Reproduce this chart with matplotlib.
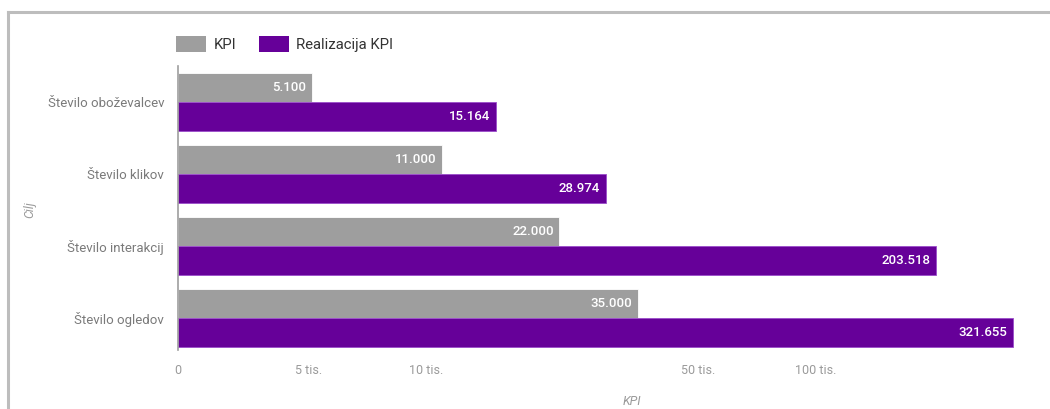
import matplotlib.pyplot as plt
from matplotlib.lines import Line2D
from matplotlib.patches import Patch

plt.rcParams['font.family'] = ['Roboto', 'DejaVu Sans']

categories = ['Število oboževalcev', 'Število klikov', 'Število interakcij', 'Število ogledov']
kpi = [5100, 11000, 22000, 35000]
realizacija = [15164, 28974, 203518, 321655]

tick_values = [5000, 10000, 50000, 100000]
tick_labels = ['5 tis.', '10 tis.', '50 tis.', '100 tis.']

# log axis floor (shown as "0")
axis_floor = 2310
axis_top = 377000

gray = '#9e9e9e'
purple = '#660099'

W, H = 1050, 409
fig = plt.figure(figsize=(W / 100, H / 100), dpi=100)
ax = fig.add_axes([178 / W, 1 - 350 / H, (1040 - 178) / W, (350 - 66) / H])

y = list(range(len(categories)))
h = 0.4
kpi_bars = ax.barh([i - h / 2 for i in y], [v - axis_floor for v in kpi], left=axis_floor,
                   height=h, color=gray, edgecolor='white', linewidth=0.6)
real_bars = ax.barh([i + h / 2 for i in y], [v - axis_floor for v in realizacija], left=axis_floor,
                    height=h, color=purple, edgecolor='#9b4dca', linewidth=0.6)

ax.set_xscale('log')
ax.set_xlim(axis_floor, axis_top)
ax.set_ylim(len(categories) - 0.56, -0.5)

for bars, vals in [(kpi_bars, kpi), (real_bars, realizacija)]:
    for b, v in zip(bars, vals):
        ax.annotate(f"{v:,}".replace(",", "."), (v, b.get_y() + b.get_height() / 2),
                    xytext=(-4, 0), textcoords='offset points', ha='right', va='center',
                    color='white', fontsize=9.5, fontweight='medium')

ax.set_yticks(y)
ax.set_yticklabels(categories, fontsize=9.5, color='#7a7a7a')
ax.set_xticks([axis_floor] + tick_values)
ax.set_xticklabels(['0'] + tick_labels, fontsize=9, color='#9a9a9a')
ax.minorticks_off()
ax.tick_params(length=0)
ax.tick_params(axis='x', pad=10)
ax.tick_params(axis='y', pad=10)

for s in ['top', 'right', 'bottom']:
    ax.spines[s].set_visible(False)
ax.spines['left'].set_color('#9e9e9e')
ax.spines['left'].set_linewidth(1.2)

ax.set_xlabel('KPI', fontsize=9, color='#9a9a9a', style='italic', labelpad=12)
ax.xaxis.set_label_coords((632 - 178) / (1040 - 178), -(395 - 350) / (350 - 66))
fig.text(30 / W, 1 - 210 / H, 'Cilj', rotation=90, fontsize=9, color='#9a9a9a',
         style='italic', ha='center', va='center')

handles = [Patch(facecolor=gray, label='KPI'), Patch(facecolor=purple, label='Realizacija KPI')]
fig.legend(handles=handles, loc='center left', bbox_to_anchor=(163 / W, 1 - 44 / H), ncol=2,
           frameon=False, fontsize=10.7, handlelength=2.0, handleheight=1.3,
           handletextpad=0.5, columnspacing=1.55, labelcolor='#333333')

# dashboard frame
fig.add_artist(Line2D([8 / W, 1], [1 - 12 / H, 1 - 12 / H], color='#bdbdbd', linewidth=2.2))
fig.add_artist(Line2D([8 / W, 8 / W], [0, 1 - 12 / H], color='#bdbdbd', linewidth=2.2))

fig.savefig('out.png', dpi=100)
